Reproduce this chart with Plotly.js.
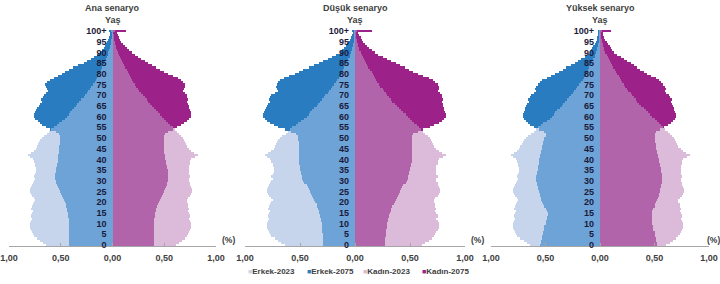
<!DOCTYPE html>
<html>
<head>
<meta charset="utf-8">
<script src="https://cdn.plot.ly/plotly-3.0.1.min.js"></script>
<style>html,body{margin:0;padding:0;background:#fff;}#chart{width:720px;height:284px;}</style>
</head>
<body>
<div id="chart"></div>
<script>
// ---- DATA (share of total population, %) ----
const ages = [0,1,2,3,4,5,6,7,8,9,10,11,12,13,14,15,16,17,18,19,20,21,22,23,24,25,26,27,28,29,30,31,32,33,34,35,36,37,38,39,40,41,42,43,44,45,46,47,48,49,50,51,52,53,54,55,56,57,58,59,60,61,62,63,64,65,66,67,68,69,70,71,72,73,74,75,76,77,78,79,80,81,82,83,84,85,86,87,88,89,90,91,92,93,94,95,96,97,98,99,100];
const ageTickVals = [0,5,10,15,20,25,30,35,40,45,50,55,60,65,70,75,80,85,90,95,100];
const ageTickText = ['0','5','10','15','20','25','30','35','40','45','50','55','60','65','70','75','80','85','90','95','100+'];
const xTickVals = [-1,-0.5,0,0.5,1];
const xTickText = ['1,00','0,50','0,00','0,50','1,00'];
const scenarioTitles = ['Ana senaryo','Düşük senaryo','Yüksek senaryo'];
const seriesNames = ['Erkek-2023','Erkek-2075','Kadın-2023','Kadın-2075'];

const male2023 = [0.64,0.67,0.70,0.73,0.76, 0.77,0.78,0.79,0.80,0.80, 0.80,0.79,0.78,0.79,0.79, 0.78,0.77,0.79,0.78,0.77, 0.76,0.75,0.76,0.78,0.79, 0.80,0.80,0.79,0.78,0.77, 0.76,0.75,0.76,0.75,0.74, 0.74,0.74,0.75,0.75,0.76, 0.77,0.80,0.82,0.79,0.76, 0.74,0.73,0.72,0.71,0.70, 0.68,0.66,0.63,0.61,0.59, 0.57,0.54,0.52,0.49,0.46, 0.44,0.42,0.41,0.39,0.37, 0.35,0.34,0.32,0.30,0.28, 0.27,0.25,0.24,0.22,0.21, 0.19,0.17,0.16,0.15,0.14, 0.13,0.12,0.11,0.10,0.09, 0.08,0.07,0.06,0.05,0.045, 0.04,0.03,0.025,0.02,0.015, 0.012,0.01,0.008,0.006,0.005, 0.01];
const female2023 = [0.61,0.64,0.67,0.70,0.72, 0.73,0.74,0.75,0.76,0.76, 0.76,0.75,0.74,0.75,0.75, 0.74,0.73,0.74,0.73,0.73, 0.72,0.72,0.73,0.75,0.76, 0.77,0.77,0.76,0.75,0.75, 0.74,0.74,0.75,0.74,0.74, 0.74,0.74,0.74,0.75,0.75, 0.76,0.80,0.83,0.79,0.76, 0.74,0.72,0.71,0.70,0.69, 0.68,0.66,0.64,0.62,0.60, 0.58,0.56,0.54,0.52,0.50, 0.48,0.46,0.44,0.42,0.40, 0.38,0.36,0.34,0.33,0.31, 0.29,0.28,0.26,0.25,0.23, 0.22,0.20,0.19,0.18,0.17, 0.16,0.15,0.14,0.12,0.11, 0.10,0.09,0.08,0.07,0.06, 0.05,0.04,0.035,0.03,0.025, 0.02,0.015,0.012,0.01,0.008, 0.02];

const maleAna2075 = [0.42,0.42,0.42,0.42,0.42, 0.42,0.42,0.42,0.42,0.42, 0.42,0.42,0.42,0.43,0.43, 0.43,0.44,0.44,0.45,0.45, 0.46,0.47,0.48,0.49,0.50, 0.51,0.52,0.53,0.54,0.55, 0.55,0.56,0.56,0.56,0.55, 0.55,0.55,0.54,0.54,0.53, 0.53,0.53,0.53,0.52,0.52, 0.52,0.52,0.51,0.51,0.51, 0.51,0.51,0.52,0.55,0.60, 0.64,0.68,0.70,0.72,0.75, 0.76,0.76,0.75,0.74,0.73, 0.71,0.70,0.68,0.69,0.67, 0.66,0.64,0.62,0.63,0.64, 0.65,0.63,0.60,0.57,0.53, 0.49,0.46,0.42,0.38,0.33, 0.28,0.25,0.21,0.18,0.15, 0.12,0.10,0.08,0.07,0.06, 0.05,0.04,0.03,0.025,0.02, 0.03];
const femaleAna2075 = [0.40,0.40,0.40,0.40,0.40, 0.40,0.40,0.40,0.40,0.40, 0.40,0.40,0.40,0.41,0.41, 0.41,0.42,0.42,0.43,0.44, 0.45,0.46,0.47,0.48,0.49, 0.50,0.51,0.52,0.53,0.53, 0.54,0.54,0.54,0.54,0.54, 0.54,0.53,0.53,0.52,0.52, 0.51,0.51,0.51,0.50,0.50, 0.50,0.50,0.50,0.50,0.50, 0.50,0.50,0.51,0.54,0.58, 0.62,0.66,0.69,0.72,0.74, 0.76,0.76,0.76,0.75,0.74, 0.74,0.73,0.72,0.73,0.72, 0.72,0.70,0.68,0.69,0.70, 0.70,0.68,0.66,0.63,0.58, 0.54,0.50,0.46,0.42,0.38, 0.34,0.31,0.28,0.25,0.22, 0.19,0.16,0.14,0.12,0.10, 0.08,0.07,0.06,0.05,0.04, 0.13];

const maleLow2075 = [0.29,0.29,0.29,0.29,0.29, 0.29,0.30,0.30,0.30,0.30, 0.30,0.31,0.31,0.32,0.32, 0.33,0.33,0.34,0.35,0.35, 0.36,0.37,0.38,0.39,0.40, 0.41,0.42,0.43,0.44,0.46, 0.47,0.48,0.48,0.49,0.49, 0.50,0.50,0.50,0.51,0.51, 0.51,0.51,0.51,0.51,0.51, 0.51,0.51,0.51,0.51,0.52, 0.52,0.52,0.54,0.58,0.64, 0.70,0.74,0.77,0.80,0.82, 0.84,0.84,0.83,0.82,0.81, 0.80,0.79,0.77,0.78,0.77, 0.76,0.73,0.70,0.71,0.72, 0.71,0.70,0.68,0.65,0.60, 0.55,0.51,0.47,0.42,0.37, 0.33,0.29,0.25,0.21,0.17, 0.14,0.12,0.10,0.08,0.07, 0.06,0.05,0.04,0.03,0.02, 0.03];
const femaleLow2075 = [0.27,0.27,0.27,0.27,0.28, 0.28,0.28,0.28,0.29,0.29, 0.29,0.30,0.30,0.31,0.31, 0.32,0.33,0.33,0.34,0.35, 0.36,0.37,0.38,0.39,0.40, 0.41,0.42,0.43,0.44,0.46, 0.47,0.48,0.48,0.49,0.49, 0.50,0.50,0.51,0.51,0.52, 0.52,0.52,0.52,0.52,0.52, 0.52,0.52,0.52,0.52,0.52, 0.52,0.52,0.53,0.57,0.62, 0.68,0.72,0.76,0.79,0.81, 0.83,0.83,0.82,0.81,0.81, 0.80,0.80,0.79,0.80,0.79, 0.79,0.77,0.75,0.76,0.76, 0.75,0.73,0.71,0.67,0.62, 0.57,0.53,0.49,0.45,0.41, 0.37,0.33,0.29,0.25,0.21, 0.18,0.15,0.13,0.11,0.09, 0.07,0.06,0.05,0.04,0.03, 0.15];

const maleHigh2075 = [0.55,0.54,0.54,0.53,0.53, 0.52,0.52,0.51,0.51,0.51, 0.50,0.50,0.49,0.49,0.48, 0.48,0.49,0.50,0.51,0.52, 0.53,0.54,0.54,0.55,0.55, 0.56,0.57,0.57,0.58,0.58, 0.59,0.59,0.59,0.58,0.58, 0.57,0.57,0.57,0.56,0.56, 0.56,0.55,0.55,0.54,0.54, 0.53,0.53,0.52,0.52,0.51, 0.51,0.50,0.50,0.51,0.56, 0.61,0.64,0.66,0.68,0.70, 0.71,0.71,0.70,0.69,0.69, 0.68,0.67,0.65,0.66,0.64, 0.63,0.61,0.59,0.60,0.59, 0.57,0.55,0.53,0.49,0.45, 0.41,0.38,0.34,0.31,0.27, 0.23,0.20,0.17,0.14,0.11, 0.09,0.08,0.07,0.06,0.05, 0.04,0.03,0.03,0.02,0.02, 0.02];
const femaleHigh2075 = [0.52,0.52,0.51,0.51,0.50, 0.50,0.50,0.49,0.49,0.49, 0.48,0.48,0.48,0.48,0.48, 0.48,0.48,0.49,0.50,0.50, 0.51,0.52,0.53,0.54,0.54, 0.55,0.55,0.56,0.56,0.57, 0.57,0.57,0.57,0.57,0.56, 0.56,0.56,0.55,0.55,0.54, 0.54,0.53,0.53,0.52,0.52, 0.51,0.51,0.51,0.50,0.50, 0.50,0.50,0.50,0.51,0.55, 0.59,0.62,0.65,0.67,0.69, 0.70,0.70,0.69,0.68,0.68, 0.67,0.66,0.65,0.66,0.64, 0.63,0.61,0.60,0.61,0.60, 0.58,0.56,0.54,0.51,0.47, 0.43,0.40,0.37,0.34,0.31, 0.28,0.25,0.22,0.19,0.16, 0.13,0.11,0.10,0.09,0.07, 0.06,0.05,0.04,0.03,0.03, 0.10];

// ---- STYLE ----
const FONT = 'Liberation Sans, Arial, sans-serif';
const C = {
  m23: '#c6d4ec', m75: '#2a7cc1', mOv: '#6ea3d8',
  f23: '#dcbad9', f75: '#9c2188', fOv: '#b264aa'
};
const W = 720, H = 284;
const panels = [
  {m75: maleAna2075, f75: femaleAna2075, dom: [9, 216], pct: 220},
  {m75: maleLow2075, f75: femaleLow2075, dom: [245, 465], pct: 469},
  {m75: maleHigh2075, f75: femaleHigh2075, dom: [491, 709], pct: 705}
];
const yDom = [38 / H, 254 / H];

const traces = [];
const layout = {
  width: W, height: H,
  margin: {l: 0, r: 0, t: 0, b: 0},
  paper_bgcolor: '#ffffff', plot_bgcolor: 'rgba(0,0,0,0)',
  barmode: 'overlay', bargap: 0,
  showlegend: false,
  font: {family: FONT},
  annotations: []
};

const neg = a => a.map(v => -v);
const minOf = (a, b) => a.map((v, i) => Math.min(v, b[i]));

panels.forEach((p, k) => {
  const xs = k === 0 ? 'x' : 'x' + (k + 1);
  const ys = k === 0 ? 'y' : 'y' + (k + 1);
  const xa = k === 0 ? 'xaxis' : 'xaxis' + (k + 1);
  const ya = k === 0 ? 'yaxis' : 'yaxis' + (k + 1);
  const bar = (vals, color, name) => ({
    type: 'bar', orientation: 'h', x: vals, y: ages, xaxis: xs, yaxis: ys,
    name: name, marker: {color: color, line: {width: 0}}, hoverinfo: 'skip'
  });
  traces.push(bar(neg(male2023), C.m23, seriesNames[0]));
  traces.push(bar(neg(p.m75), C.m75, seriesNames[1]));
  traces.push(bar(neg(minOf(male2023, p.m75)), C.mOv, 'overlap'));
  traces.push(bar(female2023, C.f23, seriesNames[2]));
  traces.push(bar(p.f75, C.f75, seriesNames[3]));
  traces.push(bar(minOf(female2023, p.f75), C.fOv, 'overlap'));

  const d0 = p.dom[0] / W, d1 = p.dom[1] / W, mid = (d0 + d1) / 2;
  layout[xa] = {
    domain: [d0, d1], range: [-1, 1], anchor: ys,
    tickvals: xTickVals, ticktext: xTickText,
    showline: true, linecolor: '#a6a6a6', linewidth: 1,
    ticks: 'inside', ticklen: 3, tickcolor: '#a6a6a6', tickwidth: 1,
    showgrid: false, zeroline: false,
    tickfont: {family: FONT, size: 9, color: '#404040', weight: 'bold'},
    ticklabelstandoff: 3, ticklabeloverflow: 'allow', fixedrange: true
  };
  layout[ya] = {
    domain: yDom, range: [-0.5, 100.5], anchor: 'free', position: mid,
    tickvals: ageTickVals, ticktext: ageTickText,
    showline: false, showgrid: false, zeroline: false, ticks: '',
    tickfont: {family: FONT, size: 9, color: '#1a1a3a', weight: 'bold'},
    ticklabelstandoff: 6, fixedrange: true
  };
  layout.annotations.push({
    xref: 'paper', yref: 'paper', x: mid, y: 1 - 8 / H, xanchor: 'center', yanchor: 'middle',
    text: '<b>' + scenarioTitles[k] + '</b>', showarrow: false,
    font: {family: FONT, size: 9, color: '#404040'}
  });
  layout.annotations.push({
    xref: 'paper', yref: 'paper', x: mid, y: 1 - 20 / H, xanchor: 'center', yanchor: 'middle',
    text: '<b>Yaş</b>', showarrow: false,
    font: {family: FONT, size: 9, color: '#404040'}
  });
  layout.annotations.push({
    xref: 'paper', yref: 'paper', x: p.pct / W, y: 1 - 240 / H, xanchor: 'left', yanchor: 'middle',
    text: '<b>(%)</b>', showarrow: false,
    font: {family: FONT, size: 8.5, color: '#404040'}
  });
});

// legend (text annotations)
const legendColors = [C.m23, C.m75, C.f23, C.f75];
const legendX = [246, 305, 361, 420];
seriesNames.forEach((n, i) => {
  layout.annotations.push({
    xref: 'paper', yref: 'paper', x: legendX[i] / W, y: 1 - 271 / H, xanchor: 'left', yanchor: 'middle',
    text: '<span style="color:' + legendColors[i] + ';font-size:7px">■</span><b>' + n + '</b>', showarrow: false,
    font: {family: FONT, size: 8, color: '#404040'}
  });
});

Plotly.newPlot('chart', traces, layout, {staticPlot: true, displayModeBar: false});
</script>
</body>
</html>
